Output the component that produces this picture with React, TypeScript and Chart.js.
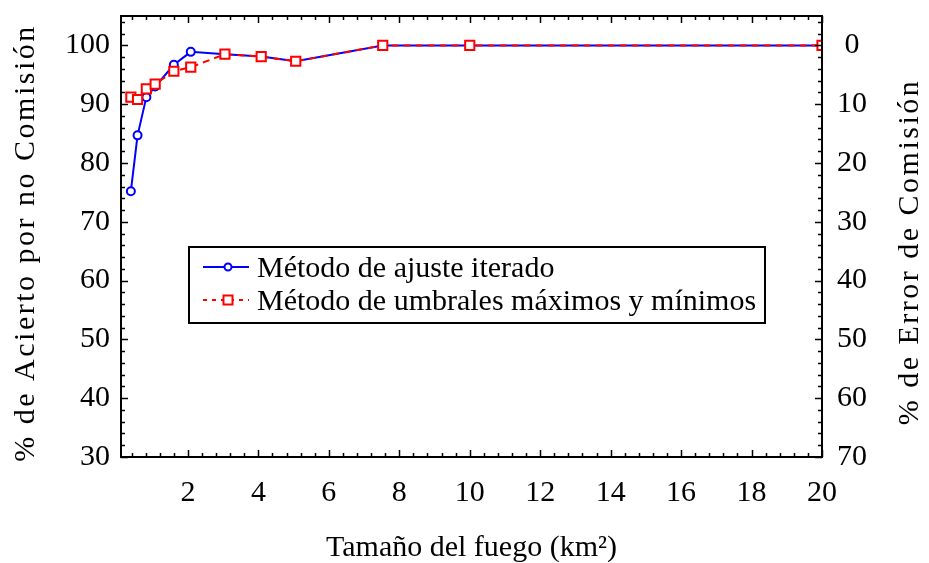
import React, { useEffect, useRef } from 'react';
import { Chart, registerables } from 'chart.js';

Chart.register(...registerables);

// Fire size (km²) at which each method was evaluated
const fireSizes = [0.38, 0.57, 0.82, 1.07, 1.6, 2.08, 3.05, 4.08, 5.06, 7.53, 10, 20];
// % de acierto por no comisión for each method
const iteratedFit = [75.2, 84.7, 91.2, 93.0, 96.7, 98.9, 98.5, 98.1, 97.3, 100, 100, 100];
const minMaxThreshold = [91.2, 90.8, 92.6, 93.4, 95.6, 96.3, 98.5, 98.1, 97.3, 100, 100, 100];

const xTickValues = [2, 4, 6, 8, 10, 12, 14, 16, 18, 20];
const leftTickValues = [30, 40, 50, 60, 70, 80, 90, 100];
const rightTickValues = [0, 10, 20, 30, 40, 50, 60, 70];

const seriesNames = ['Método de ajuste iterado', 'Método de umbrales máximos y mínimos'];
const xTitle = 'Tamaño del fuego (km²)';
const leftTitle = '% de Acierto por no Comisión';
const rightTitle = '% de Error de Comisión';

const BLUE = '#0000ff';
const RED = '#ff0000';
const SERIF = '"Liberation Serif", "Times New Roman", serif';
const RED_DASH = [7, 5];

// Frame around the plot plus inward-pointing major/minor tick marks on all four sides
const frameAndTicks = {
  id: 'frameAndTicks',
  afterDatasetsDraw(chart: any) {
    const { ctx, chartArea, scales } = chart;
    const { left, right, top, bottom } = chartArea;
    ctx.save();
    ctx.strokeStyle = '#000';
    ctx.lineWidth = 1.5;
    ctx.beginPath();
    for (let i = 1; i <= 50; i++) {
      const v = i * 0.4;
      const len = i % 5 === 0 ? 7 : 4;
      const px = Math.round(scales.x.getPixelForValue(v)) + 0.5;
      ctx.moveTo(px, bottom);
      ctx.lineTo(px, bottom - len);
      ctx.moveTo(px, top);
      ctx.lineTo(px, top + len);
    }
    for (let v = 30; v <= 104; v += 2) {
      const len = v % 10 === 0 ? 7 : 4;
      const py = Math.round(scales.y.getPixelForValue(v)) + 0.5;
      ctx.moveTo(left, py);
      ctx.lineTo(left + len, py);
    }
    for (let v = -4; v <= 70; v += 2) {
      const len = v % 10 === 0 ? 7 : 4;
      const py = Math.round(scales.y2.getPixelForValue(v)) + 0.5;
      ctx.moveTo(right, py);
      ctx.lineTo(right - len, py);
    }
    ctx.stroke();
    ctx.lineWidth = 2;
    ctx.strokeRect(left, top, right - left, bottom - top);
    ctx.restore();
  },
};

// Axis titles and the boxed legend inside the plot
const titlesAndLegend = {
  id: 'titlesAndLegend',
  afterDraw(chart: any) {
    const { ctx, chartArea } = chart;
    const { left, right, top } = chartArea;
    ctx.save();
    ctx.fillStyle = '#000';
    ctx.font = `30px ${SERIF}`;

    // x title
    ctx.textAlign = 'center';
    ctx.textBaseline = 'alphabetic';
    ctx.fillText(xTitle, (left + right) / 2, 556);

    // rotated y titles
    const drawRotated = (text: string, x: number, y: number) => {
      ctx.save();
      ctx.translate(x, y);
      ctx.rotate(-Math.PI / 2);
      (ctx as any).letterSpacing = '2.5px';
      ctx.textAlign = 'center';
      ctx.textBaseline = 'alphabetic';
      ctx.fillText(text, 0, 0);
      ctx.restore();
    };
    drawRotated(leftTitle, 34, 243);
    drawRotated(rightTitle, 918, 252);

    // legend box
    const bx = left + 68;
    const by = top + 231;
    const bw = 576;
    const bh = 76;
    ctx.fillStyle = '#fff';
    ctx.fillRect(bx, by, bw, bh);
    ctx.strokeStyle = '#000';
    ctx.lineWidth = 2;
    ctx.strokeRect(bx, by, bw, bh);

    const lx0 = bx + 14;
    const lx1 = bx + 60;
    const mx = bx + 39;
    const row1 = by + 20;
    const row2 = by + 53;

    // row 1: solid blue line with hollow circle
    ctx.strokeStyle = BLUE;
    ctx.lineWidth = 2;
    ctx.beginPath();
    ctx.moveTo(lx0, row1);
    ctx.lineTo(lx1, row1);
    ctx.stroke();
    ctx.fillStyle = '#fff';
    ctx.beginPath();
    ctx.arc(mx, row1, 3.5, 0, Math.PI * 2);
    ctx.fill();
    ctx.stroke();

    // row 2: dashed red line with hollow square
    ctx.strokeStyle = RED;
    ctx.setLineDash([4, 5]);
    ctx.beginPath();
    ctx.moveTo(lx0, row2);
    ctx.lineTo(lx1, row2);
    ctx.stroke();
    ctx.setLineDash([]);
    ctx.fillStyle = '#fff';
    ctx.fillRect(mx - 4.5, row2 - 4.5, 9, 9);
    ctx.strokeRect(mx - 4.5, row2 - 4.5, 9, 9);

    ctx.fillStyle = '#000';
    ctx.font = `30px ${SERIF}`;
    ctx.textAlign = 'left';
    ctx.textBaseline = 'alphabetic';
    ctx.fillText(seriesNames[0], bx + 68, row1 + 10);
    ctx.fillText(seriesNames[1], bx + 68, row2 + 10);
    ctx.restore();
  },
};

export default function App() {
  const canvasRef = useRef<HTMLCanvasElement | null>(null);

  useEffect(() => {
    const canvas = canvasRef.current;
    if (!canvas) return;
    const tickFont = { family: SERIF, size: 30 };
    const noOverflow = (s: any) => {
      s.paddingTop = 0;
      s.paddingBottom = 0;
      s.paddingLeft = 0;
      s.paddingRight = 0;
    };
    const chart = new Chart(canvas, {
      type: 'line',
      data: {
        datasets: [
          {
            label: seriesNames[0],
            data: fireSizes.map((x, i) => ({ x, y: iteratedFit[i] })),
            borderColor: BLUE,
            borderWidth: 2,
            pointStyle: 'circle',
            pointRadius: 4,
            pointBorderWidth: 2,
            pointBorderColor: BLUE,
            pointBackgroundColor: '#fff',
            tension: 0,
            clip: 0,
            order: 1,
            yAxisID: 'y',
          },
          {
            label: seriesNames[1],
            data: fireSizes.map((x, i) => ({ x, y: minMaxThreshold[i] })),
            borderColor: RED,
            borderWidth: 2,
            borderDash: RED_DASH,
            pointStyle: 'rect',
            pointRadius: 6.5,
            pointBorderWidth: 2,
            pointBorderColor: RED,
            pointBackgroundColor: '#fff',
            tension: 0,
            clip: 0,
            order: 0,
            yAxisID: 'y',
          },
        ],
      },
      options: {
        responsive: false,
        animation: false,
        devicePixelRatio: 1,
        layout: { padding: { top: 16, left: 0, right: 0, bottom: 0 } },
        plugins: {
          legend: { display: false },
          tooltip: { enabled: false },
        },
        scales: {
          x: {
            type: 'linear',
            position: 'bottom',
            min: 0.1,
            max: 20,
            grid: { display: false, drawTicks: false },
            border: { display: false },
            ticks: { font: tickFont, color: '#000', padding: 18, maxRotation: 0 },
            afterBuildTicks: (s: any) => {
              s.ticks = xTickValues.map((value) => ({ value }));
            },
            afterFit: (s: any) => {
              s.height = 106;
              noOverflow(s);
            },
          },
          y: {
            type: 'linear',
            position: 'left',
            min: 30,
            max: 105,
            grid: { display: false, drawTicks: false },
            border: { display: false },
            ticks: { font: tickFont, color: '#000', padding: 11 },
            afterBuildTicks: (s: any) => {
              s.ticks = leftTickValues.map((value) => ({ value }));
            },
            afterFit: (s: any) => {
              s.width = 121;
              noOverflow(s);
            },
          },
          y2: {
            type: 'linear',
            position: 'right',
            min: -5,
            max: 70,
            reverse: true,
            grid: { display: false, drawTicks: false },
            border: { display: false },
            ticks: { font: tickFont, color: '#000', padding: 15, crossAlign: 'center' },
            afterBuildTicks: (s: any) => {
              s.ticks = rightTickValues.map((value) => ({ value }));
            },
            afterFit: (s: any) => {
              s.width = 107;
              noOverflow(s);
            },
          },
        },
      },
      plugins: [frameAndTicks, titlesAndLegend],
    } as any);
    return () => chart.destroy();
  }, []);

  return (
    <div style={{ position: 'fixed', left: 0, top: 0, width: 929, height: 563, background: '#fff' }}>
      <canvas ref={canvasRef} width={929} height={563} style={{ display: 'block', width: 929, height: 563 }} />
    </div>
  );
}
